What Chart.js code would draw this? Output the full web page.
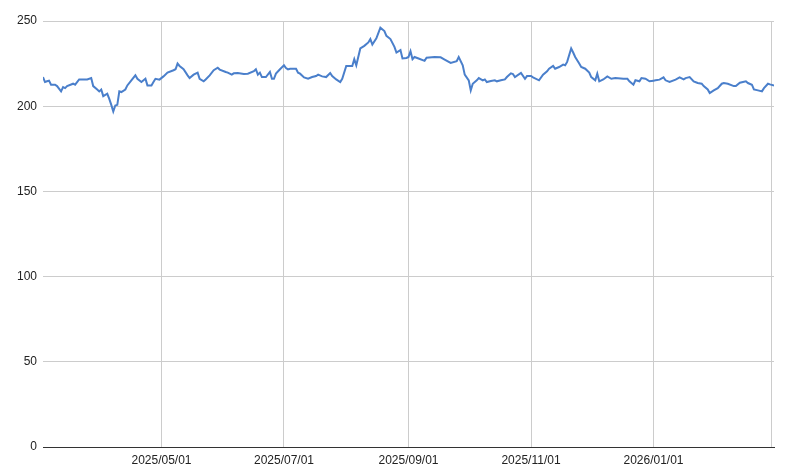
<!DOCTYPE html>
<html>
<head>
<meta charset="utf-8">
<script src="https://cdn.jsdelivr.net/npm/chart.js@4/dist/chart.umd.min.js"></script>
<style>
  html, body { margin: 0; padding: 0; background: #fff; }
  canvas { display: block; }
</style>
</head>
<body>
<canvas id="myChart" width="788" height="473"></canvas>
<script>
'use strict';

// ====================== DATA ======================//
const dates = [
  '2025-03-03', '2025-03-04', '2025-03-05', '2025-03-06', '2025-03-07', '2025-03-09', '2025-03-10', '2025-03-12',
  '2025-03-13', '2025-03-14', '2025-03-15', '2025-03-18', '2025-03-19', '2025-03-21', '2025-03-23', '2025-03-25',
  '2025-03-27', '2025-03-28', '2025-03-30', '2025-03-31', '2025-04-01', '2025-04-02', '2025-04-04', '2025-04-05',
  '2025-04-06', '2025-04-07', '2025-04-08', '2025-04-09', '2025-04-10', '2025-04-11', '2025-04-13', '2025-04-14',
  '2025-04-16', '2025-04-18', '2025-04-19', '2025-04-21', '2025-04-23', '2025-04-24', '2025-04-26', '2025-04-27',
  '2025-04-28', '2025-04-30', '2025-05-02', '2025-05-04', '2025-05-07', '2025-05-08', '2025-05-09', '2025-05-10',
  '2025-05-12', '2025-05-14', '2025-05-15', '2025-05-17', '2025-05-19', '2025-05-20', '2025-05-22', '2025-05-23',
  '2025-05-25', '2025-05-27', '2025-05-29', '2025-05-30', '2025-06-02', '2025-06-03', '2025-06-05', '2025-06-06',
  '2025-06-08', '2025-06-11', '2025-06-13', '2025-06-16', '2025-06-17', '2025-06-18', '2025-06-19', '2025-06-20',
  '2025-06-22', '2025-06-24', '2025-06-25', '2025-06-26', '2025-06-27', '2025-06-29', '2025-07-01', '2025-07-02',
  '2025-07-03', '2025-07-04', '2025-07-07', '2025-07-08', '2025-07-09', '2025-07-11', '2025-07-13', '2025-07-15',
  '2025-07-17', '2025-07-18', '2025-07-20', '2025-07-22', '2025-07-24', '2025-07-25', '2025-07-27', '2025-07-29',
  '2025-07-30', '2025-08-01', '2025-08-04', '2025-08-05', '2025-08-06', '2025-08-08', '2025-08-10', '2025-08-12',
  '2025-08-13', '2025-08-14', '2025-08-16', '2025-08-18', '2025-08-20', '2025-08-21', '2025-08-23', '2025-08-25',
  '2025-08-26', '2025-08-28', '2025-08-29', '2025-08-31', '2025-09-01', '2025-09-02', '2025-09-03', '2025-09-04',
  '2025-09-06', '2025-09-09', '2025-09-10', '2025-09-14', '2025-09-17', '2025-09-19', '2025-09-22', '2025-09-25',
  '2025-09-26', '2025-09-28', '2025-09-29', '2025-10-01', '2025-10-02', '2025-10-03', '2025-10-05', '2025-10-06',
  '2025-10-08', '2025-10-09', '2025-10-10', '2025-10-12', '2025-10-14', '2025-10-15', '2025-10-17', '2025-10-19',
  '2025-10-20', '2025-10-22', '2025-10-23', '2025-10-24', '2025-10-27', '2025-10-29', '2025-10-30', '2025-11-01',
  '2025-11-02', '2025-11-05', '2025-11-07', '2025-11-09', '2025-11-10', '2025-11-12', '2025-11-13', '2025-11-15',
  '2025-11-17', '2025-11-18', '2025-11-19', '2025-11-21', '2025-11-22', '2025-11-23', '2025-11-25', '2025-11-26',
  '2025-11-28', '2025-11-30', '2025-12-01', '2025-12-03', '2025-12-04', '2025-12-05', '2025-12-07', '2025-12-09',
  '2025-12-11', '2025-12-13', '2025-12-17', '2025-12-19', '2025-12-20', '2025-12-22', '2025-12-23', '2025-12-25',
  '2025-12-26', '2025-12-28', '2025-12-30', '2026-01-01', '2026-01-02', '2026-01-04', '2026-01-06', '2026-01-07',
  '2026-01-09', '2026-01-12', '2026-01-14', '2026-01-16', '2026-01-17', '2026-01-19', '2026-01-21', '2026-01-23',
  '2026-01-25', '2026-01-26', '2026-01-28', '2026-01-29', '2026-01-31', '2026-02-02', '2026-02-04', '2026-02-05',
  '2026-02-07', '2026-02-10', '2026-02-11', '2026-02-13', '2026-02-16', '2026-02-17', '2026-02-19', '2026-02-20',
  '2026-02-22', '2026-02-24', '2026-02-25', '2026-02-27', '2026-02-28', '2026-03-02'
];
const prices = [
  217.1, 214.2, 214.6, 215.0, 212.6, 212.6, 211.8, 208.7,
  211.2, 210.6, 211.8, 213.2, 212.6, 215.7, 215.6, 215.7,
  216.5, 211.8, 209.8, 208.7, 209.8, 205.9, 207.3, 204.3,
  200.8, 196.9, 200.4, 200.8, 208.7, 208.3, 209.8, 212.2,
  215.2, 218.1, 216.1, 214.2, 216.1, 212.2, 212.2, 214.2,
  216.1, 215.6, 217.5, 219.7, 221.1, 221.7, 225.0, 223.6,
  221.7, 218.1, 216.5, 218.5, 219.7, 216.1, 214.6, 215.7,
  218.1, 221.1, 222.6, 221.5, 220.1, 219.7, 218.5, 219.3,
  219.5, 218.9, 219.1, 220.5, 221.7, 218.5, 219.7, 217.1,
  217.1, 220.1, 216.1, 216.1, 219.1, 221.7, 224.0, 222.4,
  221.6, 222.0, 222.0, 219.7, 219.1, 216.9, 216.1, 217.1,
  217.7, 218.5, 217.5, 217.1, 219.5, 217.7, 215.7, 214.2,
  216.1, 223.6, 223.6, 227.6, 224.0, 233.9, 235.4, 237.4,
  239.4, 236.2, 239.8, 246.1, 244.1, 241.3, 239.4, 234.8,
  231.5, 232.9, 228.0, 228.3, 228.9, 232.3, 227.6, 228.9,
  228.0, 226.6, 228.5, 228.9, 228.7, 227.4, 225.4, 226.4,
  228.9, 224.0, 218.5, 215.2, 209.3, 213.2, 215.2, 216.5,
  215.2, 215.7, 214.2, 214.8, 215.2, 214.6, 215.2, 215.7,
  217.1, 219.3, 218.9, 217.1, 219.5, 216.1, 217.7, 217.7,
  216.9, 215.2, 218.5, 220.5, 222.0, 223.6, 222.0, 223.0,
  224.4, 224.0, 226.0, 233.9, 231.5, 228.9, 225.0, 223.0,
  222.0, 219.7, 217.1, 215.2, 219.1, 214.6, 215.7, 217.5,
  216.1, 216.5, 216.1, 216.1, 214.6, 212.6, 215.2, 214.6,
  216.5, 216.1, 214.6, 215.0, 215.2, 215.6, 216.9, 215.2,
  214.2, 215.6, 216.9, 215.7, 216.5, 217.1, 214.6, 213.6,
  213.2, 211.8, 209.8, 207.7, 209.3, 210.6, 213.2, 213.6,
  213.2, 211.8, 211.8, 213.8, 214.6, 213.6, 212.6, 209.8,
  209.3, 208.7, 210.6, 213.2, 212.8, 212.2
];
const tickDates = ['2025-05-01', '2025-07-01', '2025-09-01', '2025-11-01', '2026-01-01', '2026-03-01'];
const tickLabels = ['2025/05/01', '2025/07/01', '2025/09/01', '2025/11/01', '2026/01/01', ''];
const yMin = 0;
const yMax = 250;
const yStep = 50;

// dates -> day numbers so the x axis is true calendar time
function toDay(s) {
  return Date.parse(s + 'T00:00:00Z') / 86400000;
}

let points = [];
for (let i = 0; i < dates.length; i++) {
  points.push({ x: toDay(dates[i]), y: prices[i] });
}

// ====================== CHART ======================//
let chartObject = {
  type: 'line',
  data: {
    datasets: [{
      data: points,
      borderColor: '#4a7fcb',
      borderWidth: 2,
      pointRadius: 0,
      tension: 0,
      fill: false
    }]
  },
  options: {
    responsive: false,
    animation: false,
    devicePixelRatio: 1,
    layout: { padding: { left: 0, top: 21, right: 14, bottom: 0 } },
    plugins: {
      legend: { display: false },
      tooltip: { enabled: false }
    },
    scales: {
      x: {
        type: 'linear',
        min: toDay(dates[0]),
        max: toDay(dates[dates.length - 1]),
        afterBuildTicks: function (scale) {
          scale.ticks = tickDates.map(function (d) { return { value: toDay(d) }; });
        },
        afterFit: function (scale) { scale.height = 26; },
        grid: { color: '#cccccc', lineWidth: 1, drawTicks: false },
        border: { display: true, color: '#333333', width: 1 },
        ticks: {
          autoSkip: false,
          maxRotation: 0,
          padding: 6,
          color: '#222222',
          font: { family: 'Arial, "Liberation Sans", sans-serif', size: 12 },
          callback: function (value, index) { return tickLabels[index]; }
        }
      },
      y: {
        min: yMin,
        max: yMax,
        afterFit: function (scale) { scale.width = 43; },
        grid: {
          drawTicks: false,
          lineWidth: 1,
          color: function (ctx) { return ctx.tick && ctx.tick.value === 0 ? '#333333' : '#cccccc'; }
        },
        border: { display: false },
        ticks: {
          stepSize: yStep,
          padding: 6,
          color: '#222222',
          font: { family: 'Arial, "Liberation Sans", sans-serif', size: 12 }
        }
      }
    }
  }
};

let ctx = document.getElementById('myChart').getContext('2d');
let myChart = new Chart(ctx, chartObject);
</script>
</body>
</html>
